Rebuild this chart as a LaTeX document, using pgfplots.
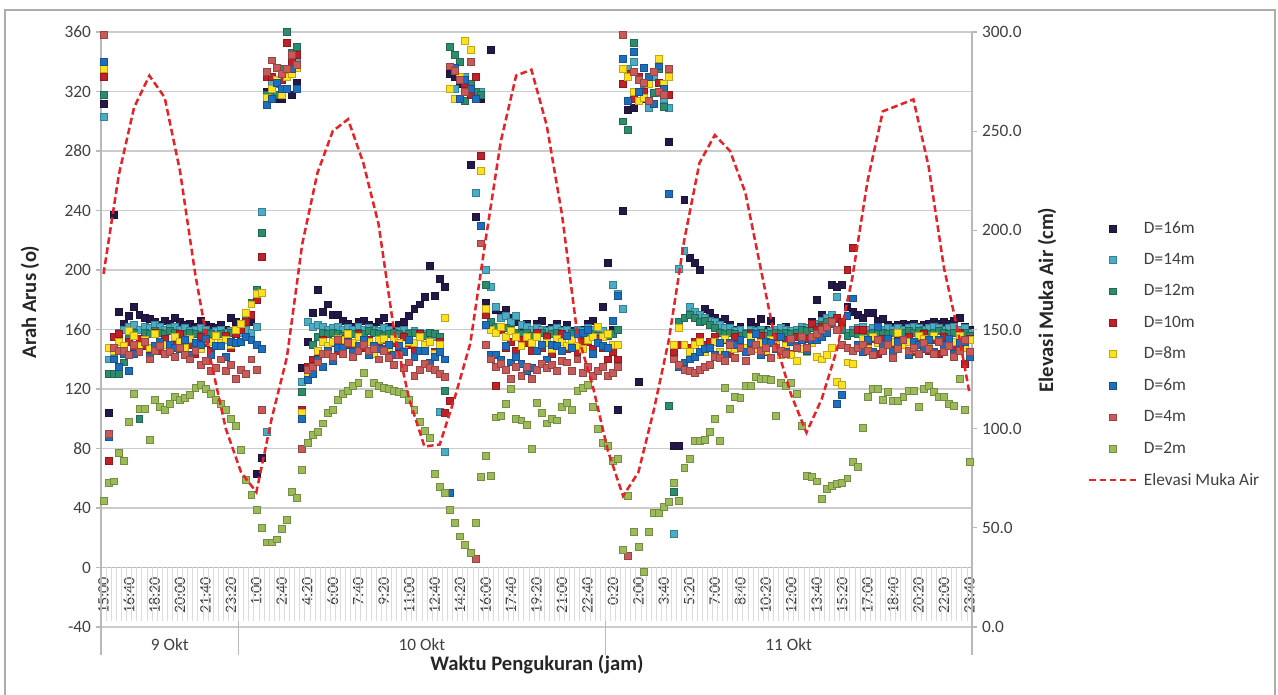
\documentclass[border=0pt]{standalone}
\usepackage{fontspec}
\setmainfont{Carlito}
\usepackage{pgfplots}
\usepackage{pgfplotstable}
\pgfplotsset{compat=1.18}
\definecolor{c16}{RGB}{36,24,72}
\definecolor{c14}{RGB}{75,172,198}
\definecolor{c12}{RGB}{46,140,110}
\definecolor{c10}{RGB}{192,32,40}
\definecolor{c8}{RGB}{255,224,30}
\definecolor{c6}{RGB}{30,110,190}
\definecolor{c4}{RGB}{200,90,90}
\definecolor{c2}{RGB}{155,187,89}
\definecolor{elev}{RGB}{230,35,40}
\pgfplotsset{mk/.style={only marks, mark=square*, mark size=2.6pt, mark options={solid, fill=#1, draw=#1!75!black, line width=0.35pt}}}
\pgfplotstableread{
idx d16 d14 d12 d10 d8 d6 d4 d2
0 312 303 318 330 335 340 358 45
1 104 140 130 72 148 88 90 57
2 237 145 130 155 146 140 148 58
3 172 158 130 157 152 135 146 77
4 164 160 138 144 149 144 146 72
5 169 162 156 152 159 132 143 98
6 175 163 158 147 156 144 150 117
7 170 160 100 154 149 145 145 107
8 168 162 158 149 153 152 152 107
9 167 161 157 147 148 142 140 86
10 165 163 159 158 157 149 146 113
11 163 162 158 146 149 152 149 108
12 166 160 157 154 150 144 144 106
13 164 161 159 146 145 150 145 110
14 168 162 158 150 155 148 142 115
15 165 160 156 157 152 147 148 113
16 163 161 157 146 148 153 143 114
17 164 159 158 150 154 143 140 116
18 162 160 157 144 148 151 146 121
19 166 161 156 155 147 150 136 123
20 163 160 158 151 153 154 139 120
21 162 158 157 146 152 143 132 117
22 161 159 156 156 156 149 134 113
23 163 160 157 149 151 149 140 110
24 160 158 156 156 153 142 132 106
25 168 159 158 148 150 152 136 100
26 165 160 160 157 160 151 127 95
27 161 158 163 160 164 152 133 79
28 157 160 170 165 171 155 130 59
29 165 158 178 170 177 153 140 49
30 63 162 187 180 184 150 133 39
31 74 239 225 209 185 147 106 27
32 320 91 318 330 316 311 333 17
33 316 326 320 330 322 315 341 17
34 315 325 318 336 328 326 336 19
35 315 320 335 328 318 322 332 26
36 322 330 360 353 330 322 335 32
37 318 343 346 340 332 335 345 51
38 326 340 350 345 336 322 338 47
39 134 125 118 106 104 100 80 66
40 152 165 133 135 128 126 133 84
41 171 162 150 140 135 130 135 89
42 187 163 155 145 146 140 138 91
43 172 162 158 153 152 135 144 97
44 177 160 157 146 149 146 144 104
45 170 161 158 151 152 139 142 106
46 170 162 157 146 154 148 153 113
47 166 160 156 154 153 148 144 117
48 164 161 158 150 157 152 151 119
49 162 160 157 149 151 145 142 122
50 165 162 158 157 155 149 146 124
51 166 160 157 148 150 153 150 131
52 163 161 159 153 152 143 146 117
53 162 160 158 146 144 149 147 124
54 165 159 157 151 153 147 140 122
55 168 161 156 153 154 147 146 121
56 162 160 157 146 148 150 141 120
57 160 158 158 151 154 143 136 119
58 163 159 157 144 151 149 143 118
59 165 160 156 155 146 145 134 117
60 169 158 157 150 152 153 138 113
61 174 159 158 146 151 142 129 106
62 177 158 157 157 155 146 133 98
63 182 157 156 148 150 146 137 92
64 203 156 158 152 152 138 134 87
65 183 155 157 145 144 142 133 63
66 194 105 155 152 150 145 130 54
67 189 78 119 104 168 140 128 50
68 332 337 350 112 322 50 337 39
69 330 322 345 334 315 336 334 30
70 325 315 340 328 330 315 328 21
71 320 330 314 325 354 328 320 15
72 271 340 325 318 348 322 340 10
73 236 252 320 330 315 315 6 30
74 315 320 318 277 267 230 218 61
75 178 200 190 170 174 163 150 75
76 348 189 165 160 160 143 140 62
77 173 175 162 122 158 143 135 101
78 170 168 160 160 162 140 137 102
79 173 169 161 148 155 149 133 110
80 168 165 160 152 159 138 127 120
81 165 169 158 146 155 142 135 100
82 162 163 157 153 149 137 129 99
83 164 162 158 151 155 132 135 96
84 158 160 156 146 151 134 127 80
85 164 161 157 158 155 146 133 111
86 166 160 158 148 150 150 137 104
87 160 159 156 155 151 140 134 97
88 161 160 157 144 147 150 136 100
89 164 161 158 151 154 149 132 99
90 160 159 157 157 152 146 139 108
91 163 160 156 147 149 156 138 111
92 159 158 157 152 153 148 132 106
93 158 160 158 145 149 157 140 119
94 160 159 157 152 147 158 131 121
95 164 161 156 152 153 160 135 123
96 166 160 157 147 155 144 129 108
97 162 158 156 154 162 151 132 93
98 175 159 155 148 155 149 135 84
99 205 157 156 140 157 148 129 82
100 160 190 157 145 150 166 131 72
101 106 184 160 140 150 183 135 73
102 240 174 300 325 335 342 358 12
103 308 335 294 332 330 314 8 48
104 309 340 353 315 320 347 333 24
105 125 320 330 330 314 320 328 14
106 315 325 320 320 316 336 326 -3
107 330 309 325 328 325 330 314 24
108 333 330 319 312 333 312 333 37
109 320 319 335 326 342 337 320 37
110 312 315 310 322 325 322 318 41
111 286 309 109 318 330 251 335 44
112 82 23 51 145 150 140 140 57
113 82 201 165 150 161 135 136 45
114 247 213 168 150 150 138 133 67
115 208 175 170 148 145 140 132 73
116 205 172 168 152 150 142 131 85
117 200 170 165 155 152 145 133 85
118 174 168 166 150 145 147 135 86
119 171 166 163 152 148 148 136 91
120 168 165 161 155 152 143 142 100
121 165 163 158 145 145 151 141 85
122 167 161 157 153 154 143 139 121
123 163 161 158 144 148 151 150 107
124 160 159 157 155 147 150 141 115
125 162 160 156 150 153 153 148 114
126 158 158 157 146 148 145 139 122
127 165 160 158 157 155 151 146 122
128 162 159 157 148 147 157 150 128
129 167 160 158 156 151 143 146 127
130 160 158 156 145 146 152 148 127
131 166 159 157 152 153 151 141 126
132 158 160 158 155 150 147 148 102
133 160 161 157 145 143 155 146 124
134 162 160 158 153 149 145 144 122
135 158 159 157 144 143 152 154 124
136 160 160 158 155 139 149 148 117
137 162 162 160 155 147 153 155 95
138 158 161 159 154 145 146 148 62
139 165 163 161 164 151 153 155 61
140 180 164 162 160 142 153 157 58
141 170 166 163 162 140 155 160 46
142 168 168 165 160 143 158 162 53
143 190 170 166 165 148 164 165 55
144 189 182 167 168 125 110 160 56
145 190 160 160 165 123 116 150 57
146 175 158 156 200 138 169 148 60
147 172 160 158 215 137 181 146 71
148 170 161 157 160 150 150 148 68
149 168 162 158 160 154 145 150 94
150 171 160 157 149 147 153 146 115
151 171 161 158 154 155 145 143 120
152 166 162 157 144 151 162 153 120
153 167 160 158 154 146 150 146 113
154 163 161 157 152 154 154 150 118
155 162 160 158 147 152 146 141 112
156 163 161 157 157 158 152 147 112
157 164 160 158 150 150 153 153 115
158 163 161 159 155 152 143 146 119
159 164 162 158 145 147 152 148 119
160 162 161 159 152 156 150 144 108
161 163 160 158 157 154 147 151 120
162 164 161 157 146 148 153 147 122
163 165 162 158 153 156 145 144 118
164 164 161 159 144 152 153 152 115
165 165 160 158 155 148 150 145 115
166 164 161 157 151 154 154 149 110
167 166 162 158 147 152 144 142 109
168 168 160 157 158 156 151 146 127
169 162 161 158 137 148 152 153 106
170 160 158 156 154 153 142 145 71
}\dirdata
\pgfplotstableread{
idx e
0 178
3 228
6 262
9 278
12 267
15 230
18 178
21 135
24 100
27 78
30 68
33 105
36 136
39 193
42 229
45 250
48 256
51 234
54 203
57 150
60 115
63 91
66 92
69 116
72 143
75 195
78 245
81 278
84 281
87 253
90 208
93 148
96 122
99 89
102 66
105 78
108 109
111 145
114 195
117 234
120 248
123 240
126 219
129 181
132 143
135 117
138 98
141 115
144 140
147 176
150 225
153 260
156 263
159 266
162 232
165 181
168 146
170 118
}\elevdata
\begin{document}
\begin{tikzpicture}[x=0.75pt,y=0.75pt]
\useasboundingbox (0,0) rectangle (1278,695);
\draw[gray!65, line width=0.9pt] (5,-10) rectangle (1275,685);
\begin{axis}[
  at={(75.75pt,51pt)}, anchor=south west, scale only axis,
  width=653.25pt, height=446.25pt,
  xmin=-0.5, xmax=170.5, ymin=-40, ymax=360,
  axis x line*=middle, axis y line*=left,
  hide obscured x ticks=false, hide obscured y ticks=false,
  x axis line style={gray!55, line width=0.8pt, -},
  y axis line style={draw=none},
  xtick={0,5,...,170},
  xticklabels={15:00,16:40,18:20,20:00,21:40,23:20,1:00,2:40,4:20,6:00,7:40,9:20,11:00,12:40,14:20,16:00,17:40,19:20,21:00,22:40,0:20,2:00,3:40,5:20,7:00,8:40,10:20,12:00,13:40,15:20,17:00,18:40,20:20,22:00,23:40},
  x tick style={draw=none},
  x tick label style={rotate=90, anchor=east, font=\fontsize{12}{14}\selectfont, text=black!75, inner sep=3pt},
  ytick={-40,0,...,360},
  ymajorgrids, grid style={gray!40, line width=0.8pt},
  y tick label style={font=\fontsize{13}{15}\selectfont, text=black!75},
  y tick style={gray!55, line width=0.8pt}, tick align=outside, major tick length=4pt,
  /pgf/number format/assume math mode=true,
  clip=false,
]
\pgfplotsinvokeforeach{0,...,171}{\draw[gray!28, line width=0.5pt] (axis cs:#1-0.5,0) -- (axis cs:#1-0.5,-36.3);}
\draw[gray!55, line width=0.8pt] (axis cs:-0.5,360) -- (axis cs:-0.5,-58.5);
\draw[gray!55, line width=0.8pt] (axis cs:26.5,-36.3) -- (axis cs:26.5,-58.5);
\draw[gray!55, line width=0.8pt] (axis cs:98.5,-36.3) -- (axis cs:98.5,-58.5);
\draw[gray!55, line width=0.8pt] (axis cs:170.5,360) -- (axis cs:170.5,-58.5);
\node[font=\fontsize{13}{15}\selectfont, text=black!75] at (axis cs:13,-52) {9 Okt};
\node[font=\fontsize{13}{15}\selectfont, text=black!75] at (axis cs:62.5,-52) {10 Okt};
\node[font=\fontsize{13}{15}\selectfont, text=black!75] at (axis cs:134.5,-52) {11 Okt};
\addplot[mk=c16] table[x=idx,y=d16]{\dirdata};
\addplot[mk=c14] table[x=idx,y=d14]{\dirdata};
\addplot[mk=c12] table[x=idx,y=d12]{\dirdata};
\addplot[mk=c10] table[x=idx,y=d10]{\dirdata};
\addplot[mk=c8] table[x=idx,y=d8]{\dirdata};
\addplot[mk=c6] table[x=idx,y=d6]{\dirdata};
\addplot[mk=c4] table[x=idx,y=d4]{\dirdata};
\addplot[mk=c2] table[x=idx,y=d2]{\dirdata};
\end{axis}
\begin{axis}[
  at={(75.75pt,51pt)}, anchor=south west, scale only axis,
  width=653.25pt, height=446.25pt,
  xmin=-0.5, xmax=170.5, ymin=0, ymax=300,
  axis y line*=right, axis x line=none,
  y axis line style={draw=none},
  ytick={0,50,...,300},
  y tick label style={font=\fontsize{13}{15}\selectfont, text=black!75,
    /pgf/number format/fixed, /pgf/number format/fixed zerofill, /pgf/number format/precision=1},
  y tick style={gray!55, line width=0.8pt}, tick align=outside, major tick length=4pt,
  /pgf/number format/assume math mode=true,
  legend style={at={(1.133,0.686)}, anchor=north west, draw=none, fill=none,
    font=\fontsize{13}{15}\selectfont, text=black!75, row sep=9.5pt, inner sep=0pt,
    /tikz/every odd column/.style={column sep=3pt}},
  legend cell align=left,
  legend image code/.code={\draw[mark repeat=2,mark phase=2,#1] plot coordinates {(0pt,0pt) (17.5pt,0pt) (35pt,0pt)};},
]
\addlegendimage{mk=c16}\addlegendentry{D=16m}
\addlegendimage{mk=c14}\addlegendentry{D=14m}
\addlegendimage{mk=c12}\addlegendentry{D=12m}
\addlegendimage{mk=c10}\addlegendentry{D=10m}
\addlegendimage{mk=c8}\addlegendentry{D=8m}
\addlegendimage{mk=c6}\addlegendentry{D=6m}
\addlegendimage{mk=c4}\addlegendentry{D=4m}
\addlegendimage{mk=c2}\addlegendentry{D=2m}
\addplot[color=elev, line width=1.9pt, dash pattern=on 5pt off 2.6pt] table[x=idx,y=e]{\elevdata};
\addlegendentry{Elevasi Muka Air}
\end{axis}
\node[rotate=90, font=\bfseries\fontsize{15.5}{18}\selectfont, text=black!85] at (30,393) {Arah Arus (o)};
\node[rotate=90, font=\bfseries\fontsize{15.5}{18}\selectfont, text=black!85] at (1047,395) {Elevasi Muka Air (cm)};
\node[font=\bfseries\fontsize{15.5}{18}\selectfont, text=black!85] at (537,30) {Waktu Pengukuran (jam)};
\end{tikzpicture}
\end{document}
